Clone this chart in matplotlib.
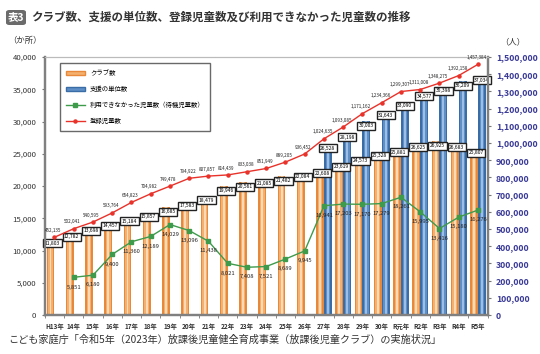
import matplotlib
matplotlib.use("Agg")
import matplotlib.pyplot as plt
import numpy as np
from matplotlib.patches import FancyBboxPatch, Patch
from matplotlib.lines import Line2D
from matplotlib.ticker import FuncFormatter, MultipleLocator

plt.rcParams['font.family'] = ['Noto Sans CJK JP', 'DejaVu Sans']

years = ["H13年", "14年", "15年", "16年", "17年", "18年", "19年", "20年", "21年", "22年",
         "23年", "24年", "25年", "26年", "27年", "28年", "29年", "30年", "R元年", "R2年",
         "R3年", "R4年", "R5年"]
clubs = [11803, 12782, 13698, 14457, 15184, 15857, 16685, 17583, 18479, 19946,
         20561, 21085, 21482, 22084, 22608, 23619, 24573, 25328, 25881, 26625,
         26925, 26683, 25807]
units = [None] * 14 + [26528, 28198, 30003, 31643, 33090, 34577, 35398, 36209, 37034]
waiting = [None, 5851, 6180, 9400, 11360, 12189, 14029, 13096, 11438, 8021,
           7408, 7521, 8689, 9945, 16941, 17203, 17170, 17279, 18261, 15995,
           13416, 15180, 16276]
registered = [452135, 502041, 540595, 593764, 654823, 704982, 749478, 794922, 807857, 814439,
              833038, 851949, 889205, 936452, 1024635, 1093085, 1171162, 1234366, 1299307, 1311008,
              1348275, 1392158, 1457384]

fig = plt.figure(figsize=(5.4, 3.54), dpi=100)
ax = fig.add_axes([0.083, 0.11, 0.82, 0.729])
ax2 = ax.twinx()

x = np.arange(len(years))
w = 0.41
xo = x - w / 2
xb = x + w / 2

# bars with a light stripe in the middle (gradient look)
ax.bar(xo, clubs, w, color="#E8883A", zorder=2)
ax.bar(xo, clubs, w * 0.6, color="#F4B06E", zorder=2)
ax.bar(xo, clubs, w * 0.25, color="#FBDAB5", zorder=2)
ub = [u if u is not None else 0 for u in units]
ax.bar(xb, ub, w, color="#3A6DA6", zorder=2)
ax.bar(xb, ub, w * 0.6, color="#5E8FC6", zorder=2)
ax.bar(xb, ub, w * 0.25, color="#9DBFE5", zorder=2)

box = dict(boxstyle="square,pad=0.3", fc="white", ec="#222222", lw=1.0)
for xi, v in zip(xo, clubs):
    ax.annotate(f"{v:,}", (xi + 0.1, v), xytext=(0, -3), textcoords="offset points",
                ha="center", va="center", fontsize=3.6, bbox=box, zorder=6)
for xi, v in zip(xb, units):
    if v is not None:
        ax.annotate(f"{v:,}", (xi, v), xytext=(0, -3), textcoords="offset points",
                    ha="center", va="center", fontsize=3.6, bbox=box, zorder=6)

wx = [i for i, v in enumerate(waiting) if v is not None]
wv = [v for v in waiting if v is not None]
ax.plot(wx, wv, color="#3E9B4C", lw=1.0, marker="s", ms=2.5, zorder=4)
for xi, v in zip(wx, wv):
    ax.annotate(f"{v:,}", (xi, v), xytext=(0, -7), textcoords="offset points",
                ha="center", va="center", fontsize=4.2, color="#222222", zorder=5)

ax2.plot(x, registered, color="#E8322A", lw=1.0, marker="o", ms=2.2, zorder=4)
for xi, v in zip(x, registered):
    ax2.annotate(f"{v:,}", (xi, v), xytext=(-1, 5), textcoords="offset points",
                 ha="center", va="center", fontsize=3.3, color="#222222")

ax.set_xlim(-0.5, len(years) - 0.5)
ax.set_ylim(0, 40000)
ax2.set_ylim(0, 1500000)
ax.yaxis.set_major_locator(MultipleLocator(5000))
ax2.yaxis.set_major_locator(MultipleLocator(100000))
fmt = FuncFormatter(lambda v, p: f"{int(v):,}")
ax.yaxis.set_major_formatter(fmt)
ax2.yaxis.set_major_formatter(fmt)

ax.set_xticks(x)
ax.set_xticklabels(years, fontsize=4.6, fontweight="bold", color="#333333")
ax.set_xticks(np.arange(-0.5, len(years)), minor=True)
ax.tick_params(axis="x", which="major", length=0, pad=6)
ax.tick_params(axis="x", which="minor", length=2.5, color="#777777")
ax.tick_params(axis="y", labelsize=5.6, length=2.5, color="#777777", labelcolor="#333333")
ax2.tick_params(axis="y", labelsize=6.3, length=2.5, color="#777777", labelcolor="#3B3B98")
for lab in ax2.get_yticklabels():
    lab.set_fontweight("bold")

for a in (ax, ax2):
    for s in ("left", "right", "bottom"):
        a.spines[s].set_color("#808080")
        a.spines[s].set_linewidth(1.6)
    a.spines["top"].set_color("#bbbbbb")
    a.spines["top"].set_linewidth(0.8)

handles = [Patch(facecolor="#F4B06E", edgecolor="#E8883A"),
           Patch(facecolor="#5E8FC6", edgecolor="#3A6DA6"),
           Line2D([], [], color="#3E9B4C", lw=1.0, marker="s", ms=2.5),
           Line2D([], [], color="#E8322A", lw=1.0, marker="o", ms=2.2)]
labels = ["クラブ数", "支援の単位数", "利用できなかった児童数（待機児童数）", "登録児童数"]
leg = ax2.legend(handles, labels, loc="upper left", bbox_to_anchor=(0.034, 0.975),
                 fontsize=4.6, frameon=True, fancybox=False, edgecolor="#444444",
                 labelspacing=1.25, borderpad=0.9, handlelength=3.0, borderaxespad=0)
leg.get_frame().set_linewidth(1.0)

# title
fig.patches.append(FancyBboxPatch((6 / 540, 1 - 25 / 354), 20 / 540, 15 / 354,
                                  boxstyle="round,pad=0,rounding_size=0.006",
                                  transform=fig.transFigure, fc="#6B6B6B", ec="none"))
fig.text(16 / 540, 1 - 17.5 / 354, "表3", ha="center", va="center", fontsize=7.5,
         color="white", fontweight="bold")
fig.text(31 / 540, 1 - 17.5 / 354, "クラブ数、支援の単位数、登録児童数及び利用できなかった児童数の推移",
         ha="left", va="center", fontsize=8.3, fontweight="bold", color="#333333")
fig.text(8 / 540, 1 - 41 / 354, "（か所）", ha="left", va="center", fontsize=6, color="#333333")
fig.text(500 / 540, 1 - 42 / 354, "（人）", ha="left", va="center", fontsize=6, color="#333333")
fig.text(8 / 540, 1 - 340 / 354,
         "こども家庭庁「令和5年（2023年）放課後児童健全育成事業（放課後児童クラブ）の実施状況」",
         ha="left", va="center", fontsize=7.3, color="#333333")

fig.savefig("out.png", dpi=100)
